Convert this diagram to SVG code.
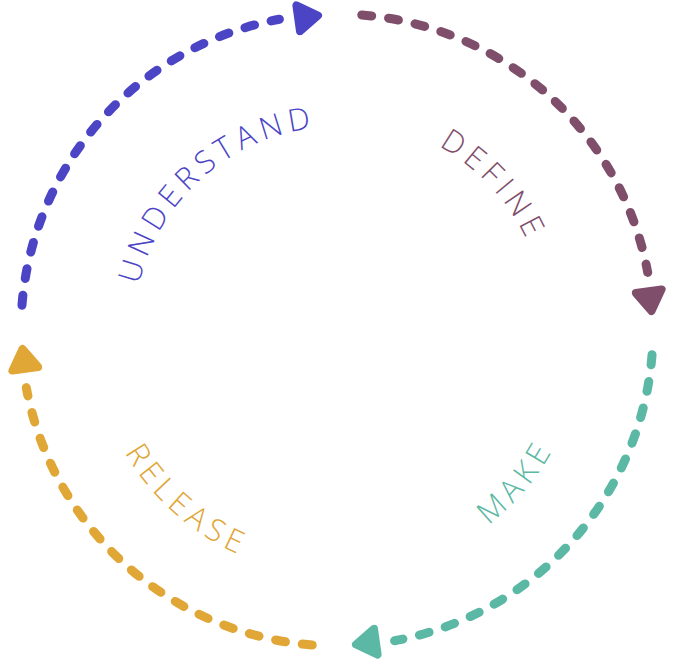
<svg xmlns="http://www.w3.org/2000/svg" xmlns:xlink="http://www.w3.org/1999/xlink" width="673" height="662" viewBox="0 0 673 662">
  <style>
    .arc { fill: none; stroke-width: 9; stroke-linecap: round; stroke-dasharray: 10 17; }
    .head { stroke-width: 8; stroke-linejoin: round; }
    .lbl { font-family: "Open Sans", "Liberation Sans", sans-serif; font-size: 31px; font-weight: 300; letter-spacing: 5.5px; text-anchor: middle; }
  </style>
  <defs>
    <path id="pUnd" d="M 134 330 A 203 203 0 0 1 540 330"/>
    <path id="pDef" d="M 127 330 A 210 210 0 0 1 547 330"/>
    <path id="pRel" d="M 92 330 A 245 245 0 0 0 582 330"/>
    <path id="pMak" d="M 90 330 A 247 247 0 0 0 584 330"/>
  </defs>
  <rect width="673" height="662" fill="#ffffff"/>
  <g id="connectors">
    <g id="arc-understand" stroke="#4b45c6" fill="#4b45c6">
      <path class="arc" d="M 21.97 305.21 A 316 316 0 0 1 279.41 19.29"/>
      <polygon class="head" points="0,0 -20,-13 -20,13" transform="translate(318 15.5) rotate(-8)"/>
    </g>
    <g id="arc-define" stroke="#7f4e6b" fill="#7f4e6b" transform="rotate(90 337 330)">
      <path class="arc" d="M 21.97 305.21 A 316 316 0 0 1 279.41 19.29"/>
      <polygon class="head" points="0,0 -20,-13 -20,13" transform="translate(318 15.5) rotate(-8)"/>
    </g>
    <g id="arc-make" stroke="#5bb8a4" fill="#5bb8a4" transform="rotate(180 337 330)">
      <path class="arc" d="M 21.97 305.21 A 316 316 0 0 1 279.41 19.29"/>
      <polygon class="head" points="0,0 -20,-13 -20,13" transform="translate(318 15.5) rotate(-8)"/>
    </g>
    <g id="arc-release" stroke="#e0a636" fill="#e0a636" transform="rotate(270 337 330)">
      <path class="arc" d="M 21.97 305.21 A 316 316 0 0 1 279.41 19.29"/>
      <polygon class="head" points="0,0 -20,-13 -20,13" transform="translate(318 15.5) rotate(-8)"/>
    </g>
  </g>
  <g id="understand">
    <text class="lbl" fill="#4b45c6"><textPath xlink:href="#pUnd" startOffset="172">UNDERSTAND</textPath></text>
  </g>
  <g id="define">
    <text class="lbl" fill="#7f4e6b"><textPath xlink:href="#pDef" startOffset="503">DEFINE</textPath></text>
  </g>
  <g id="make">
    <text class="lbl" fill="#5bb8a4"><textPath xlink:href="#pMak" startOffset="602">MAKE</textPath></text>
  </g>
  <g id="release">
    <text class="lbl" fill="#e0a636"><textPath xlink:href="#pRel" startOffset="208">RELEASE</textPath></text>
  </g>
</svg>
